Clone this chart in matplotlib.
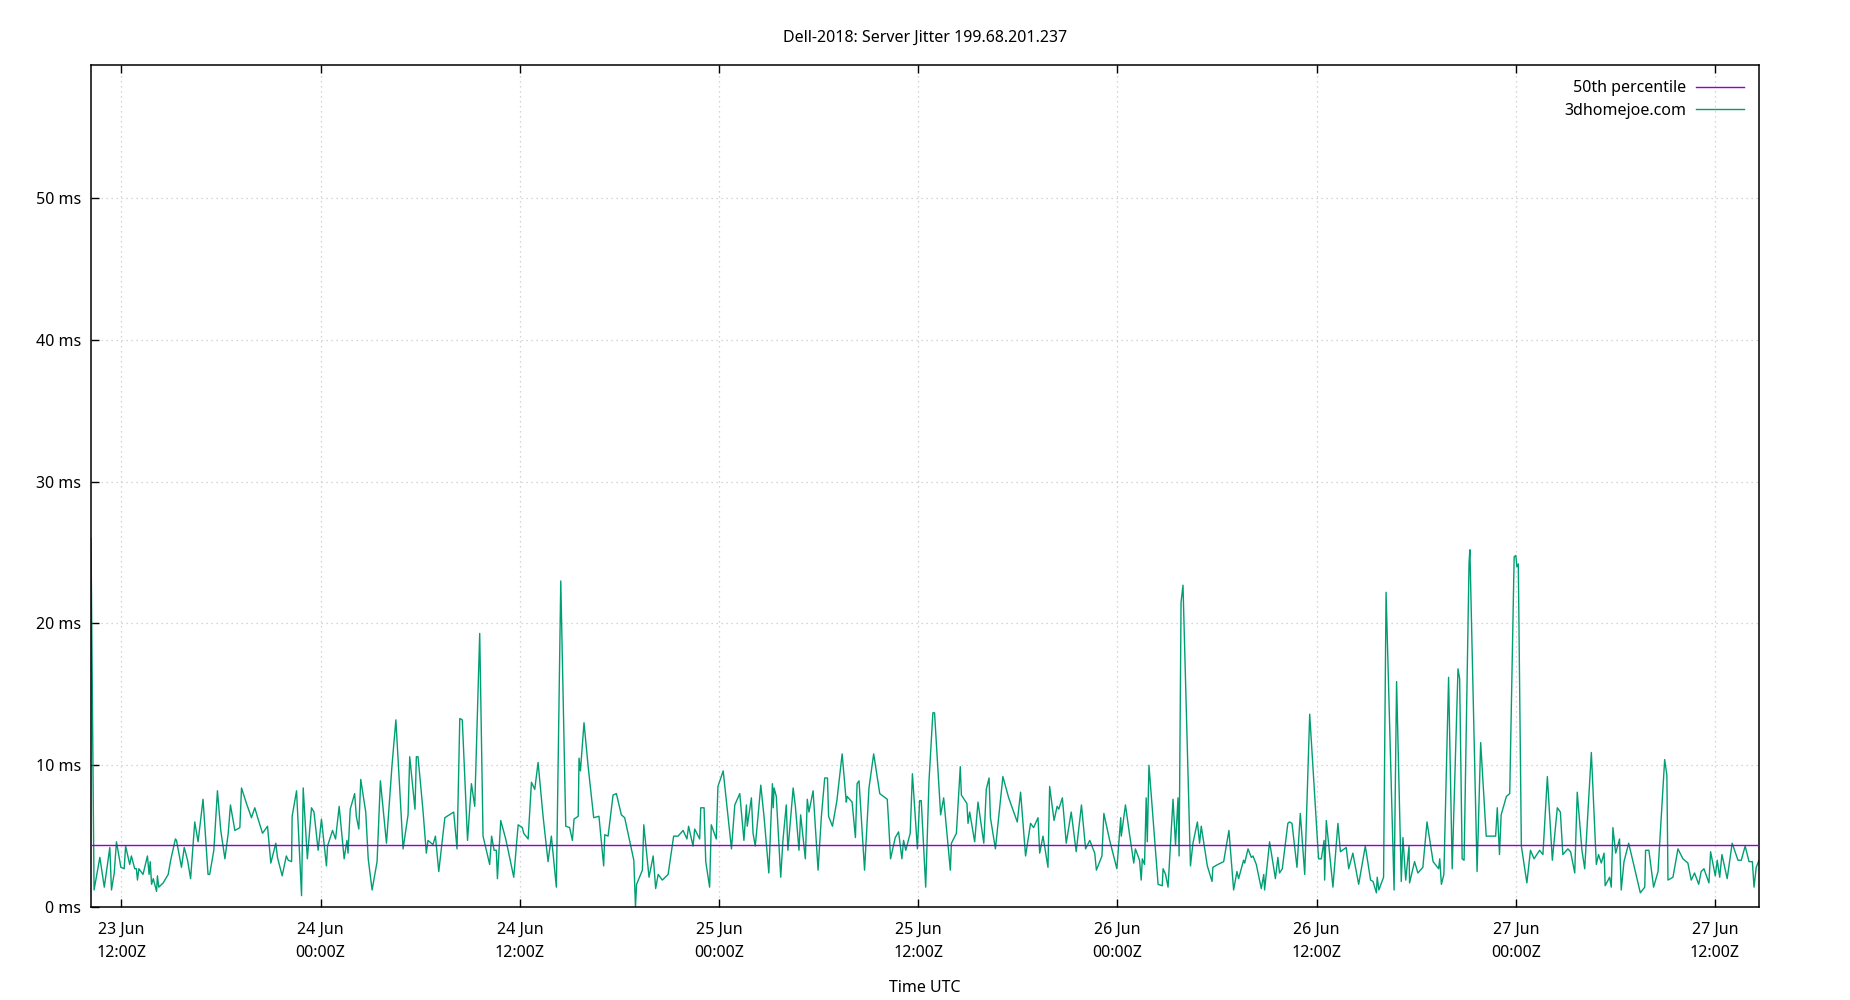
import matplotlib as mpl
import matplotlib.pyplot as plt
import matplotlib.dates as mdates
import numpy as np

# --- style: gnuplot-like png ---
mpl.rcParams.update({
    "font.family": ["Noto Sans", "DejaVu Sans"],
    "font.size": 11.5,
    "axes.linewidth": 1.1,
    "xtick.direction": "in",
    "ytick.direction": "in",
    "xtick.major.size": 6,
    "ytick.major.size": 6,
    "xtick.major.width": 1.0,
    "ytick.major.width": 1.0,
})

TITLE = "Dell-2018: Server Jitter 199.68.201.237"
SERIES_LABEL = "3dhomejoe.com"
MEDIAN_LABEL = "50th percentile"
MEDIAN_MS = 4.38
Y_MAX = 59.4
Y_TICKS = [0, 10, 20, 30, 40, 50]

# time origin: 23 Jun 12:00Z, offsets in minutes
BASE = np.datetime64("2023-06-23T12:00")

# samples (minutes from BASE, jitter in ms)
minutes = [
    -110, -99, -78, -62, -42, -36, -26, -18, -2, 10, 15, 30, 36, 48, 54, 58, 63, 78, 94, 100,
    104, 109, 115, 127, 130, 135, 151, 169, 178, 195, 199, 217, 227, 239, 250, 265, 277, 295, 313, 319,
    334, 347, 359, 374, 386, 394, 410, 428, 434, 452, 470, 482, 494, 510, 528, 540, 558, 564, 581, 596,
    603, 615, 617, 633, 651, 657, 672, 687, 696, 711, 723, 741, 745, 763, 774, 787, 805, 815, 819, 827,
    843, 849, 858, 865, 883, 892, 906, 924, 936, 958, 978, 992, 1018, 1036, 1042, 1061, 1066, 1072,
    # 24 Jun 12:00 ->
    1090, 1102, 1108, 1126, 1135, 1147, 1169, 1201, 1213, 1223, 1232, 1251, 1265, 1277, 1295, 1307,
    1331, 1338, 1347, 1355, 1359, 1371, 1389, 1401, 1418, 1434, 1449, 1454, 1470, 1482, 1494, 1506,
    1524, 1542, 1554, 1572, 1588, 1606, 1620, 1630, 1636, 1651, 1654, 1659, 1672, 1687, 1707, 1726,
    1743, 1747, 1759, 1777, 1789, 1807, 1819, 1852, 1858, 1862, 1883, 1888, 1907, 1922, 1931, 1940,
    1955, 1976, 1996, 2012, 2030, 2044, 2050, 2066, 2072, 2090, 2094, 2106, 2112, 2126, 2132, 2150,
    2156, 2175, 2205, 2217, 2235, 2250, 2259, 2262, 2277, 2283, 2291,
    # 25 Jun 00:00 ->
    2301, 2311, 2323, 2340, 2353, 2356, 2359, 2367, 2383, 2391, 2403, 2409, 2428, 2436, 2449, 2455,
    2472, 2479, 2485, 2500, 2518, 2530, 2542, 2552, 2556, 2570, 2586, 2605, 2620, 2623, 2641, 2653,
    2659, 2666, 2686, 2702, 2719, 2741, 2768, 2773, 2780, 2797, 2809, 2821, 2827, 2835, 2851, 2859,
    2877, 2885, 2891, 2907, 2919, 2933, 2939, 2961, 2972, 2996, 3000, 3018, 3032, 3036, 3056, 3060,
    3066, 3084, 3096, 3117, 3126, 3136, 3141, 3159, 3186, 3207, 3238, 3250, 3268, 3286, 3297, 3313,
    3319, 3331, 3349, 3355, 3371, 3382, 3388, 3401, 3415, 3433, 3451, 3470, 3485, 3500, 3518,
    # 26 Jun 00:00 ->
    3524, 3544, 3551, 3572, 3598, 3612, 3614, 3629, 3644, 3659, 3665, 3680, 3686, 3690, 3698, 3704,
    3708, 3714, 3747, 3762, 3765, 3774, 3783, 3801, 3810, 3819, 3823, 3830, 3837, 3864, 3873, 3889,
    3897, 3903, 3925, 3942, 3945, 3963, 3984, 4003, 4020, 4032, 4038, 4056, 4060, 4072, 4084, 4090,
    4102, 4120, 4129, 4132, 4150, 4171, 4180, 4186, 4196, 4216, 4222, 4231, 4249, 4261, 4277, 4295,
    4313, 4327, 4337, 4347, 4349, 4355, 4379, 4397, 4406, 4427, 4436, 4451, 4472, 4496, 4515, 4524,
    4536, 4539, 4545, 4562, 4571, 4600, 4609, 4626, 4632, 4642, 4654, 4656, 4674, 4686, 4704, 4719,
    # 27 Jun 00:00 ->
    4741, 4761, 4765, 4771, 4780, 4797, 4810, 4831, 4837, 4846, 4853, 4871, 4874, 4900, 4913, 4933,
    4967, 4973, 4981, 4987, 5006, 5018, 5034, 5040, 5044, 5049, 5060, 5080, 5093, 5106, 5126, 5138,
    5154, 5172, 5190, 5201, 5210, 5228, 5238, 5253, 5262, 5279, 5289, 5313, 5331, 5339, 5349, 5359,
    5363, 5379, 5385, 5391, 5401, 5415, 5421, 5431, 5448, 5490, 5506, 5509, 5521, 5538, 5554, 5578,
    5586, 5590, 5608, 5626, 5644, 5662, 5674, 5686, 5701, 5710, 5720, 5738, 5744, 5761, 5768, 5777,
    5785, 5804, 5822, 5843, 5855, 5869, 5883, 5895, 5901, 5909, 5919,
]

jitter_ms = [
    26.0, 1.2, 3.5, 1.4, 4.2, 1.2, 2.4, 4.6, 2.8, 2.7, 4.3, 3.0, 3.6, 2.7, 2.7, 1.9, 2.7, 2.3, 3.6, 2.3,
    3.2, 1.6, 2.0, 1.1, 2.2, 1.4, 1.7, 2.3, 3.3, 4.8, 4.7, 2.8, 4.2, 3.3, 2.0, 6.0, 4.6, 7.6, 2.3, 2.3,
    4.0, 8.2, 5.4, 3.4, 5.2, 7.2, 5.4, 5.6, 8.4, 7.3, 6.3, 7.0, 6.2, 5.2, 5.7, 3.1, 4.5, 3.5, 2.2, 3.6,
    3.3, 3.2, 6.4, 8.2, 0.8, 8.4, 3.4, 7.0, 6.7, 4.0, 6.2, 2.9, 4.3, 5.4, 4.8, 7.1, 3.4, 4.7, 3.8, 6.9,
    8.0, 6.4, 5.5, 9.0, 6.7, 3.4, 1.2, 3.2, 8.9, 4.5, 10.0, 13.2, 4.1, 6.5, 10.6, 6.9, 10.6, 10.6,
    # 24 Jun 12:00 ->
    6.8, 3.8, 4.7, 4.4, 5.0, 2.5, 6.3, 6.7, 4.1, 13.3, 13.2, 4.7, 8.7, 7.1, 19.3, 5.0,
    3.0, 5.0, 4.0, 4.0, 2.0, 6.1, 4.8, 3.7, 2.1, 5.8, 5.6, 5.2, 4.8, 8.8, 8.3, 10.2,
    6.4, 3.2, 5.0, 1.4, 23.0, 5.7, 5.6, 4.7, 6.2, 6.4, 10.5, 9.6, 13.0, 9.9, 6.3, 6.4,
    2.9, 5.1, 5.0, 7.9, 8.0, 6.5, 6.3, 3.3, 0.0, 1.6, 2.6, 5.8, 2.1, 3.6, 1.3, 2.3,
    1.9, 2.3, 5.0, 5.0, 5.4, 4.8, 5.7, 4.3, 5.5, 4.8, 7.0, 7.0, 3.2, 1.4, 5.8, 4.8,
    8.5, 9.6, 4.1, 7.2, 8.0, 4.7, 7.2, 5.7, 7.7, 5.2, 4.3,
    # 25 Jun 00:00 ->
    6.4, 8.6, 6.3, 2.4, 8.7, 7.0, 8.4, 7.8, 2.1, 4.7, 7.2, 4.0, 8.4, 7.1, 4.0, 6.5,
    3.4, 7.6, 6.7, 8.2, 2.6, 6.4, 9.1, 9.1, 6.4, 5.7, 7.5, 10.8, 7.4, 7.8, 7.4, 4.9,
    8.7, 8.9, 2.6, 8.4, 10.8, 8.0, 7.6, 6.0, 3.4, 4.9, 5.3, 3.4, 4.7, 4.0, 5.2, 9.4,
    4.1, 7.5, 7.5, 1.4, 8.9, 13.7, 13.7, 6.5, 7.7, 2.6, 4.5, 5.2, 9.9, 7.9, 7.3, 5.9,
    6.7, 4.6, 7.4, 4.5, 8.3, 9.1, 6.3, 4.1, 9.2, 7.7, 6.0, 8.1, 3.6, 5.9, 5.6, 6.3,
    3.8, 5.0, 2.8, 8.5, 6.1, 7.1, 6.9, 7.7, 4.5, 6.7, 3.9, 7.2, 4.1, 4.7, 3.8,
    # 26 Jun 00:00 ->
    2.6, 3.6, 6.6, 4.7, 2.7, 6.3, 5.0, 7.2, 5.1, 3.1, 4.1, 3.3, 1.9, 3.4, 3.0, 7.7,
    4.6, 10.0, 1.6, 1.5, 2.7, 2.3, 1.4, 7.6, 4.4, 7.7, 3.6, 21.5, 22.7, 2.9, 4.5, 6.0,
    4.5, 5.7, 2.9, 1.8, 2.8, 3.0, 3.2, 5.4, 1.2, 2.5, 2.0, 3.3, 3.1, 4.1, 3.5, 3.6,
    3.0, 1.3, 2.3, 1.2, 4.6, 2.0, 3.5, 2.4, 2.7, 5.9, 6.0, 5.9, 2.8, 6.6, 2.3, 13.6,
    7.8, 3.4, 3.4, 4.7, 1.9, 6.1, 1.4, 5.9, 3.9, 4.2, 2.7, 3.8, 1.6, 4.3, 1.9, 1.8,
    1.0, 2.1, 1.2, 2.1, 22.2, 1.2, 15.9, 1.8, 4.9, 1.9, 4.3, 1.7, 3.2, 2.4, 2.8, 6.0,
    # 27 Jun 00:00 ->
    3.2, 2.7, 3.4, 1.6, 2.3, 16.2, 2.7, 16.8, 16.1, 3.4, 3.3, 24.3, 25.2, 2.5, 11.6, 5.0,
    5.0, 7.0, 3.7, 6.5, 7.8, 8.0, 24.7, 24.8, 24.0, 24.2, 4.3, 1.7, 4.0, 3.4, 4.0, 3.7,
    9.2, 3.3, 7.0, 6.7, 3.7, 4.1, 3.9, 2.4, 8.1, 4.0, 2.7, 10.9, 3.0, 3.7, 3.1, 3.8,
    1.5, 2.1, 1.4, 5.6, 3.8, 4.8, 1.2, 3.2, 4.5, 1.0, 1.4, 4.0, 4.0, 1.4, 2.5, 10.4,
    9.3, 1.9, 2.1, 4.1, 3.4, 3.1, 1.9, 2.4, 1.6, 2.5, 2.7, 1.7, 3.9, 2.2, 3.3, 2.1,
    3.7, 2.0, 4.5, 3.3, 3.3, 4.3, 3.2, 3.2, 1.4, 2.8, 3.3,
]


def main():
    times = BASE + np.array(minutes).astype("timedelta64[m]")
    times = times.astype("datetime64[s]").astype(object)

    fig = plt.figure(figsize=(18.5, 10), dpi=100)
    ax = fig.add_axes([91 / 1850, 93 / 1000, (1759 - 91) / 1850, (907 - 65) / 1000])

    line, = ax.plot(times, jitter_ms, color="#009e73", linewidth=1.0, zorder=2)
    med = ax.axhline(MEDIAN_MS, color="#9400d3", linewidth=1.0, zorder=3)

    ax.set_xlim(times[0], times[-1])
    ax.set_ylim(0, Y_MAX)
    ax.set_yticks(Y_TICKS)
    ax.set_yticklabels([f"{t} ms" for t in Y_TICKS])

    ax.xaxis.set_major_locator(mdates.HourLocator(byhour=[0, 12]))
    ax.xaxis.set_major_formatter(mdates.DateFormatter("%d %b\n%H:%MZ"))
    ax.tick_params(axis="x", top=True, pad=11)
    ax.tick_params(axis="y", right=False, pad=7)

    ax.grid(True, color="#c8c8c8", linestyle=(0, (1, 3)), linewidth=0.9)
    ax.set_axisbelow(True)

    ax.set_title(TITLE, fontsize=11.5, pad=17)
    ax.set_xlabel("Time UTC", labelpad=14)

    ax.legend([med, line], [MEDIAN_LABEL, SERIES_LABEL], loc="upper right",
              frameon=False, markerfirst=False, handlelength=3.0,
              handletextpad=0.6, labelspacing=0.42, borderaxespad=0.55)

    fig.canvas.draw()
    for lbl in ax.get_xticklabels():
        lbl.set_linespacing(1.55)

    fig.savefig("out.png", dpi=100)
    plt.close(fig)


if __name__ == "__main__":
    main()
